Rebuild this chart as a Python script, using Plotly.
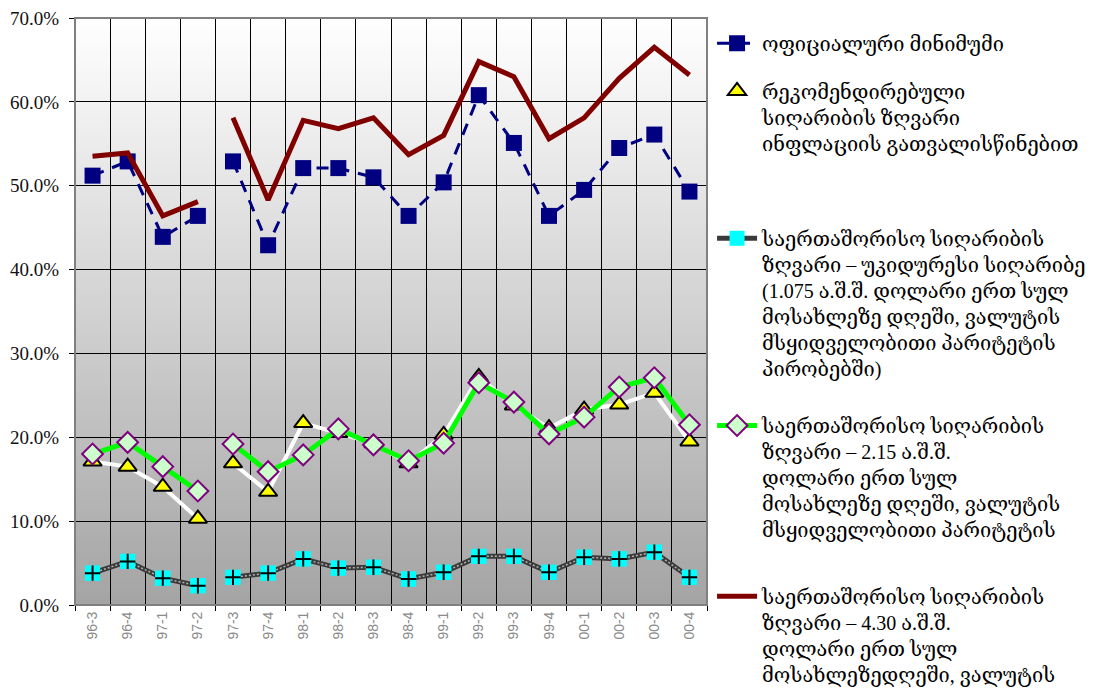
import plotly.graph_objects as go

categories = ["96-3", "96-4", "97-1", "97-2", "97-3", "97-4", "98-1", "98-2", "98-3",
              "98-4", "99-1", "99-2", "99-3", "99-4", "00-1", "00-2", "00-3", "00-4"]
GAP_AFTER = 4  # lines are broken between 97-2 and 97-3

official_min = [51.2, 52.9, 43.9, 46.4, 52.9, 42.9, 52.1, 52.1, 51.0,
                46.4, 50.4, 60.8, 55.1, 46.4, 49.5, 54.5, 56.1, 49.3]
recommended = [17.1, 16.5, 14.1, 10.3, 16.9, 13.5, 21.7, 20.5, 19.3,
               16.9, 20.3, 27.2, 23.8, 21.1, 23.3, 23.9, 25.3, 19.5]
extreme_1075 = [3.8, 5.2, 3.2, 2.3, 3.3, 3.8, 5.5, 4.4, 4.5,
                3.1, 3.9, 5.8, 5.8, 3.9, 5.7, 5.5, 6.3, 3.3]
line_215 = [18.0, 19.4, 16.5, 13.6, 19.2, 15.9, 17.9, 21.0, 19.1,
            17.2, 19.3, 26.5, 24.2, 20.4, 22.4, 26.0, 27.1, 21.5]
line_430 = [53.5, 53.9, 46.4, 48.1, 58.1, 48.3, 57.8, 56.8, 58.1,
            53.7, 56.0, 64.8, 63.0, 55.6, 58.1, 62.8, 66.5, 63.2]

y_ticks = [0, 10, 20, 30, 40, 50, 60, 70]
y_tick_labels = ["0.0%", "10.0%", "20.0%", "30.0%", "40.0%", "50.0%", "60.0%", "70.0%"]

names = [
    "ოფიციალური მინიმუმი",
    "რეკომენდირებული<br>სიღარიბის ზღვარი<br>ინფლაციის გათვალისწინებით",
    "საერთაშორისო სიღარიბის<br>ზღვარი – უკიდურესი სიღარიბე<br>(1.075 ა.შ.შ. დოლარი ერთ სულ<br>"
    "მოსახლეზე დღეში, ვალუტის<br>მსყიდველობითი პარიტეტის<br>პირობებში)",
    "საერთაშორისო სიღარიბის<br>ზღვარი – 2.15 ა.შ.შ.<br>დოლარი ერთ სულ<br>"
    "მოსახლეზე დღეში, ვალუტის<br>მსყიდველობითი პარიტეტის",
    "საერთაშორისო სიღარიბის<br>ზღვარი – 4.30 ა.შ.შ.<br>დოლარი ერთ სულ<br>მოსახლეზედღეში, ვალუტის",
]


def gap(seq):
    return list(seq[:GAP_AFTER]) + [None] + list(seq[GAP_AFTER:])


X = gap(categories)

fig = go.Figure()

fig.add_trace(go.Scatter(
    x=X, y=gap(official_min), name=names[0], legend="legend", mode="lines+markers",
    line=dict(color="#000080", width=3, dash="12px,9px"),
    marker=dict(symbol="square", size=16, color="#000080")))

fig.add_trace(go.Scatter(
    x=X, y=gap(recommended), name=names[1], legend="legend2", mode="lines+markers",
    line=dict(color="#ffffff", width=4),
    marker=dict(symbol="triangle-up", size=16, color="#ffff00",
                line=dict(color="#000000", width=2))))

fig.add_trace(go.Scatter(
    x=X, y=gap(extreme_1075), name=names[2], legend="legend3", mode="lines+markers",
    line=dict(color="#3a3a3a", width=5),
    marker=dict(symbol="square", size=15, color="#00ffff")))
fig.add_trace(go.Scatter(
    x=X, y=gap(extreme_1075), showlegend=False, mode="lines", hoverinfo="skip",
    line=dict(color="#b0b0b0", width=1.5, dash="2px,2px")))
fig.add_trace(go.Scatter(
    x=X, y=gap(extreme_1075), showlegend=False, mode="markers", hoverinfo="skip",
    marker=dict(symbol="square", size=15, color="#00ffff")))
fig.add_trace(go.Scatter(
    x=X, y=gap(extreme_1075), showlegend=False, mode="markers", hoverinfo="skip",
    marker=dict(symbol="cross-thin-open", size=11, color="#000000",
                line=dict(color="#000000", width=2))))

fig.add_trace(go.Scatter(
    x=X, y=gap(line_215), name=names[3], legend="legend4", mode="lines+markers",
    line=dict(color="#00ff00", width=5),
    marker=dict(symbol="diamond", size=16, color="#ccffcc",
                line=dict(color="#800080", width=2))))

fig.add_trace(go.Scatter(
    x=X, y=gap(line_430), name=names[4], legend="legend5", mode="lines",
    line=dict(color="#800000", width=5)))

# vertical gradient background of the plot area
shapes = []
n_bands = 120
top_c, bot_c = 255, 164
for i in range(n_bands):
    f = (i + 0.5) / n_bands
    c = int(round(bot_c + (top_c - bot_c) * f))
    shapes.append(dict(type="rect", xref="paper", yref="paper",
                       x0=0, x1=1, y0=i / n_bands, y1=(i + 1) / n_bands + 0.002,
                       fillcolor=f"rgb({c},{c},{c})", line=dict(width=0), layer="below"))
shapes.append(dict(type="rect", xref="paper", yref="paper", x0=0, x1=1, y0=0, y1=1,
                   line=dict(color="#808080", width=2), layer="above"))

leg_font = dict(family="Liberation Serif, DejaVu Serif, serif", size=20, color="#000000")


def legend_at(y):
    return dict(x=1.008, xanchor="left", y=y, yanchor="top", font=leg_font,
                bgcolor="rgba(0,0,0,0)", valign="top", itemwidth=40,
                tracegroupgap=0)


fig.update_layout(
    width=1088, height=691,
    margin=dict(l=67, r=389, t=10, b=94, autoexpand=False),
    paper_bgcolor="#ffffff", plot_bgcolor="#ffffff",
    shapes=shapes,
    showlegend=True,
    legend=legend_at(0.990),
    legend2=legend_at(0.909),
    legend3=legend_at(0.658),
    legend4=legend_at(0.339),
    legend5=legend_at(0.048),
    xaxis=dict(type="category", categoryorder="array", categoryarray=categories,
               range=[-0.5, len(categories) - 0.5],
               tickson="boundaries", ticks="outside", ticklen=5, tickcolor="#000000",
               showgrid=True, gridcolor="#000000", gridwidth=1,
               showline=True, linecolor="#000000", linewidth=1,
               tickangle=-90,
               tickfont=dict(family="Liberation Sans, Arial, sans-serif", size=14, color="#8a8a8a")),
    yaxis=dict(range=[0, 70], tickvals=y_ticks, ticktext=y_tick_labels,
               ticks="outside", ticklen=5, tickcolor="#000000",
               ticklabeloverflow="allow", ticklabelstandoff=6,
               showgrid=True, gridcolor="#000000", gridwidth=1,
               showline=True, linecolor="#000000", linewidth=1, zeroline=False,
               tickfont=dict(family="Liberation Serif, Times New Roman, serif", size=19, color="#111111")),
)

fig.write_html("out.html")
